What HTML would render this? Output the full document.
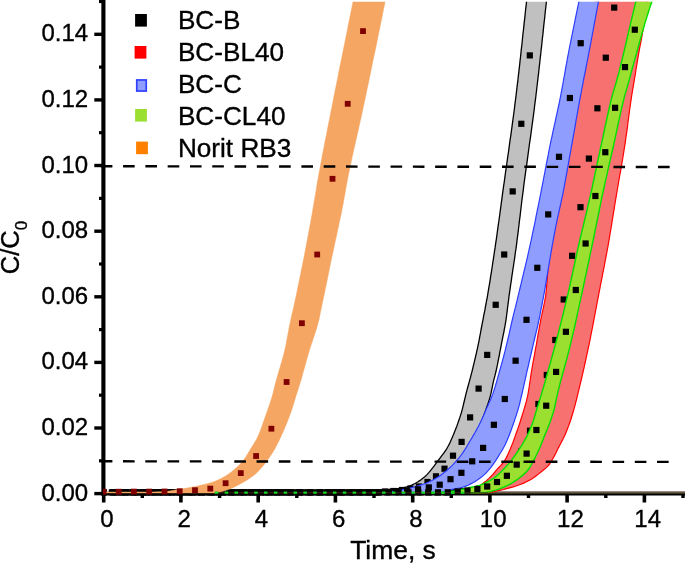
<!DOCTYPE html>
<html><head><meta charset="utf-8"><title>Breakthrough curves</title>
<style>
html,body{margin:0;padding:0;background:#fff;}
body{width:685px;height:563px;overflow:hidden;}
svg{display:block;}
text{font-family:"Liberation Sans",Arial,Helvetica,sans-serif;font-size:24px;fill:#000;stroke:#000;stroke-width:0.35px;}
.lg{font-size:25.6px;}
</style></head>
<body>
<svg width="685" height="563" viewBox="0 0 685 563">
<rect width="685" height="563" fill="#fff"/>
<defs><clipPath id="cp"><rect x="102.9" y="1.8" width="583" height="496"/></clipPath></defs>
<!-- axes lines -->
<line x1="103.4" x2="103.4" y1="0" y2="495.4" stroke="#000" stroke-width="4.1"/>
<line x1="101.4" x2="685" y1="493.65" y2="493.65" stroke="#000" stroke-width="3.6"/>
<line x1="94.3" x2="103.4" y1="493.6" y2="493.6" stroke="#000" stroke-width="3.4"/>
<line x1="99" x2="103.4" y1="460.8" y2="460.8" stroke="#000" stroke-width="3.2"/>
<line x1="94.3" x2="103.4" y1="428.0" y2="428.0" stroke="#000" stroke-width="3.4"/>
<line x1="99" x2="103.4" y1="395.2" y2="395.2" stroke="#000" stroke-width="3.2"/>
<line x1="94.3" x2="103.4" y1="362.4" y2="362.4" stroke="#000" stroke-width="3.4"/>
<line x1="99" x2="103.4" y1="329.6" y2="329.6" stroke="#000" stroke-width="3.2"/>
<line x1="94.3" x2="103.4" y1="296.8" y2="296.8" stroke="#000" stroke-width="3.4"/>
<line x1="99" x2="103.4" y1="264.0" y2="264.0" stroke="#000" stroke-width="3.2"/>
<line x1="94.3" x2="103.4" y1="231.2" y2="231.2" stroke="#000" stroke-width="3.4"/>
<line x1="99" x2="103.4" y1="198.4" y2="198.4" stroke="#000" stroke-width="3.2"/>
<line x1="94.3" x2="103.4" y1="165.5" y2="165.5" stroke="#000" stroke-width="3.4"/>
<line x1="99" x2="103.4" y1="132.7" y2="132.7" stroke="#000" stroke-width="3.2"/>
<line x1="94.3" x2="103.4" y1="99.9" y2="99.9" stroke="#000" stroke-width="3.4"/>
<line x1="99" x2="103.4" y1="67.1" y2="67.1" stroke="#000" stroke-width="3.2"/>
<line x1="94.3" x2="103.4" y1="34.3" y2="34.3" stroke="#000" stroke-width="3.4"/>
<line x1="99" x2="103.4" y1="1.5" y2="1.5" stroke="#000" stroke-width="3.2"/>
<line y1="493.4" y2="502.5" x1="103.7" x2="103.7" stroke="#000" stroke-width="3.6"/>
<line y1="493.4" y2="498" x1="142.3" x2="142.3" stroke="#000" stroke-width="3.4"/>
<line y1="493.4" y2="502.5" x1="180.9" x2="180.9" stroke="#000" stroke-width="3.6"/>
<line y1="493.4" y2="498" x1="219.6" x2="219.6" stroke="#000" stroke-width="3.4"/>
<line y1="493.4" y2="502.5" x1="258.2" x2="258.2" stroke="#000" stroke-width="3.6"/>
<line y1="493.4" y2="498" x1="296.8" x2="296.8" stroke="#000" stroke-width="3.4"/>
<line y1="493.4" y2="502.5" x1="335.4" x2="335.4" stroke="#000" stroke-width="3.6"/>
<line y1="493.4" y2="498" x1="374.0" x2="374.0" stroke="#000" stroke-width="3.4"/>
<line y1="493.4" y2="502.5" x1="412.7" x2="412.7" stroke="#000" stroke-width="3.6"/>
<line y1="493.4" y2="498" x1="451.3" x2="451.3" stroke="#000" stroke-width="3.4"/>
<line y1="493.4" y2="502.5" x1="489.9" x2="489.9" stroke="#000" stroke-width="3.6"/>
<line y1="493.4" y2="498" x1="528.5" x2="528.5" stroke="#000" stroke-width="3.4"/>
<line y1="493.4" y2="502.5" x1="567.1" x2="567.1" stroke="#000" stroke-width="3.6"/>
<line y1="493.4" y2="498" x1="605.8" x2="605.8" stroke="#000" stroke-width="3.4"/>
<line y1="493.4" y2="502.5" x1="644.4" x2="644.4" stroke="#000" stroke-width="3.6"/>
<line y1="493.4" y2="498" x1="683.0" x2="683.0" stroke="#000" stroke-width="3.4"/>
<line x1="480" x2="685" y1="492.3" y2="492.3" stroke="#6e544c" stroke-width="1.7"/>
<line x1="480" x2="685" y1="493.3" y2="493.3" stroke="#4a5a20" stroke-width="0.6"/>
<g clip-path="url(#cp)">
<path d="M350.0,492.3 L353.0,492.3 L356.0,492.2 L359.0,492.1 L362.0,491.9 L365.0,491.8 L368.0,491.6 L371.0,491.4 L374.0,491.2 L377.0,490.9 L379.9,490.6 L382.9,490.2 L385.9,489.9 L388.9,489.5 L391.9,489.2 L394.9,488.9 L397.8,488.7 L400.8,488.3 L403.8,487.7 L406.7,487.0 L409.5,486.0 L412.3,484.8 L415.0,483.5 L417.6,482.0 L420.1,480.4 L422.5,478.6 L424.8,476.7 L427.0,474.6 L429.0,472.4 L430.9,470.1 L432.8,467.7 L434.6,465.3 L436.4,462.9 L438.2,460.5 L440.0,458.1 L441.8,455.7 L443.6,453.3 L445.3,450.8 L447.0,448.3 L448.4,445.7 L449.8,443.1 L451.0,440.3 L452.2,437.6 L453.4,434.8 L454.5,432.0 L455.6,429.2 L456.7,426.4 L457.7,423.6 L458.7,420.8 L459.7,417.9 L460.6,415.1 L461.5,412.2 L462.3,409.3 L463.0,406.4 L463.7,403.5 L464.4,400.5 L465.1,397.6 L465.8,394.7 L466.5,391.8 L467.3,388.9 L468.1,386.0 L468.9,383.1 L469.7,380.2 L470.5,377.3 L471.2,374.4 L472.0,371.5 L472.7,368.6 L473.4,365.7 L474.1,362.8 L474.8,359.9 L475.5,356.9 L476.2,354.0 L476.8,351.1 L477.5,348.1 L478.1,345.2 L478.7,342.3 L479.3,339.3 L479.8,336.4 L480.4,333.4 L480.9,330.5 L481.5,327.5 L482.0,324.6 L482.6,321.6 L483.2,318.7 L483.7,315.7 L484.3,312.8 L484.9,309.9 L485.4,306.9 L486.0,304.0 L486.5,301.0 L487.1,298.1 L487.6,295.1 L488.1,292.2 L488.6,289.2 L489.1,286.2 L489.6,283.3 L490.1,280.3 L490.5,277.4 L491.0,274.4 L491.5,271.4 L491.9,268.5 L492.4,265.5 L492.8,262.5 L493.3,259.6 L493.7,256.6 L494.2,253.6 L494.6,250.7 L495.1,247.7 L495.5,244.7 L495.9,241.8 L496.4,238.8 L496.8,235.8 L497.2,232.8 L497.6,229.9 L498.0,226.9 L498.4,223.9 L498.9,221.0 L499.3,218.0 L499.7,215.0 L500.1,212.0 L500.5,209.1 L500.9,206.1 L501.3,203.1 L501.7,200.2 L502.1,197.2 L502.5,194.2 L502.9,191.2 L503.3,188.3 L503.7,185.3 L504.2,182.3 L504.6,179.4 L505.0,176.4 L505.4,173.4 L505.8,170.4 L506.3,167.5 L506.7,164.5 L507.1,161.5 L507.5,158.6 L507.9,155.6 L508.4,152.6 L508.8,149.6 L509.2,146.7 L509.6,143.7 L510.0,140.7 L510.4,137.8 L510.9,134.8 L511.3,131.8 L511.7,128.8 L512.1,125.9 L512.5,122.9 L512.9,119.9 L513.3,117.0 L513.7,114.0 L514.1,111.0 L514.5,108.0 L514.8,105.1 L515.2,102.1 L515.6,99.1 L516.0,96.1 L516.3,93.2 L516.7,90.2 L517.0,87.2 L517.4,84.2 L517.8,81.2 L518.1,78.3 L518.4,75.3 L518.8,72.3 L519.1,69.3 L519.5,66.3 L519.8,63.4 L520.1,60.4 L520.5,57.4 L520.8,54.4 L521.1,51.4 L521.4,48.4 L521.8,45.5 L522.1,42.5 L522.4,39.5 L522.7,36.5 L523.0,33.5 L523.4,30.5 L523.7,27.6 L524.0,24.6 L524.3,21.6 L524.7,18.6 L525.0,15.6 L525.3,12.7 L525.6,9.7 L526.0,6.7 L526.3,3.7 L526.6,0.7 L527.0,-2.3 L527.3,-5.0 L547.2,-5.0 L547.1,-4.4 L546.8,-1.4 L546.4,1.5 L546.1,4.5 L545.8,7.5 L545.4,10.5 L545.1,13.5 L544.8,16.5 L544.5,19.4 L544.1,22.4 L543.8,25.4 L543.5,28.4 L543.2,31.4 L542.9,34.4 L542.5,37.3 L542.2,40.3 L541.9,43.3 L541.6,46.3 L541.2,49.3 L540.9,52.3 L540.6,55.2 L540.2,58.2 L539.9,61.2 L539.6,64.2 L539.2,67.2 L538.9,70.1 L538.6,73.1 L538.2,76.1 L537.9,79.1 L537.5,82.1 L537.2,85.0 L536.8,88.0 L536.5,91.0 L536.1,94.0 L535.8,97.0 L535.4,99.9 L535.0,102.9 L534.6,105.9 L534.3,108.9 L533.9,111.8 L533.5,114.8 L533.1,117.8 L532.7,120.8 L532.3,123.7 L531.9,126.7 L531.5,129.7 L531.1,132.6 L530.7,135.6 L530.3,138.6 L529.8,141.6 L529.4,144.5 L529.0,147.5 L528.6,150.5 L528.2,153.4 L527.8,156.4 L527.4,159.4 L527.0,162.4 L526.6,165.3 L526.1,168.3 L525.7,171.3 L525.3,174.3 L524.9,177.2 L524.5,180.2 L524.1,183.2 L523.7,186.1 L523.4,189.1 L523.0,192.1 L522.6,195.1 L522.2,198.1 L521.8,201.0 L521.5,204.0 L521.1,207.0 L520.8,210.0 L520.4,212.9 L520.1,215.9 L519.7,218.9 L519.3,221.9 L519.0,224.9 L518.6,227.8 L518.3,230.8 L517.9,233.8 L517.5,236.8 L517.1,239.7 L516.8,242.7 L516.4,245.7 L516.0,248.7 L515.5,251.6 L515.1,254.6 L514.7,257.6 L514.3,260.5 L513.8,263.5 L513.4,266.5 L512.9,269.4 L512.5,272.4 L512.0,275.4 L511.6,278.3 L511.2,281.3 L510.7,284.3 L510.3,287.3 L509.9,290.2 L509.5,293.2 L509.0,296.2 L508.7,299.1 L508.3,302.1 L507.9,305.1 L507.5,308.1 L507.2,311.1 L506.8,314.0 L506.4,317.0 L506.0,320.0 L505.5,322.9 L505.0,325.9 L504.4,328.8 L503.9,331.8 L503.3,334.7 L502.7,337.7 L502.1,340.6 L501.5,343.6 L501.0,346.5 L500.4,349.4 L499.8,352.4 L499.3,355.3 L498.7,358.3 L498.1,361.2 L497.6,364.2 L496.9,367.1 L496.3,370.0 L495.6,373.0 L494.9,375.9 L494.1,378.8 L493.4,381.7 L492.8,384.6 L492.2,387.6 L491.6,390.5 L491.0,393.4 L490.2,396.3 L489.4,399.2 L488.5,402.1 L487.5,404.9 L486.5,407.8 L485.5,410.6 L484.5,413.4 L483.5,416.2 L482.4,419.0 L481.3,421.8 L480.2,424.6 L479.1,427.4 L477.9,430.2 L476.7,432.9 L475.5,435.7 L474.3,438.4 L473.0,441.1 L471.7,443.8 L470.3,446.5 L468.9,449.1 L467.4,451.7 L465.8,454.3 L464.2,456.8 L462.5,459.3 L460.7,461.7 L458.9,464.1 L456.9,466.4 L454.9,468.6 L452.8,470.7 L450.6,472.8 L448.3,474.7 L445.9,476.6 L443.5,478.4 L440.9,480.0 L438.4,481.4 L435.7,482.8 L432.9,484.0 L430.2,485.2 L427.3,486.2 L424.5,487.2 L421.6,488.0 L418.7,488.7 L415.8,489.4 L412.8,490.0 L409.9,490.5 L406.9,491.0 L403.9,491.5 L401.0,492.0 L398.0,492.3 L395.0,492.5 L392.0,492.6 L389.0,492.7 L386.0,492.8 L383.0,492.9 L380.1,492.9 L377.1,493.0 L374.1,493.1 L371.1,493.1 L368.1,493.2 L365.1,493.2 L362.1,493.2 L359.0,493.3 L356.0,493.3 L353.0,493.3 L350.0,493.3Z" fill="#c0c0c0" stroke="#000" stroke-width="1.3" stroke-linejoin="round"/>
<rect x="100.3" y="489.2" width="6.2" height="6.2" fill="#000"/>
<rect x="108.8" y="489.2" width="6.2" height="6.2" fill="#000"/>
<rect x="117.4" y="489.2" width="6.2" height="6.2" fill="#000"/>
<rect x="125.9" y="489.2" width="6.2" height="6.2" fill="#000"/>
<rect x="134.4" y="489.2" width="6.2" height="6.2" fill="#000"/>
<rect x="142.9" y="489.2" width="6.2" height="6.2" fill="#000"/>
<rect x="151.5" y="489.2" width="6.2" height="6.2" fill="#000"/>
<rect x="160.0" y="489.2" width="6.2" height="6.2" fill="#000"/>
<rect x="168.5" y="489.2" width="6.2" height="6.2" fill="#000"/>
<rect x="177.1" y="489.2" width="6.2" height="6.2" fill="#000"/>
<rect x="185.6" y="489.2" width="6.2" height="6.2" fill="#000"/>
<rect x="194.1" y="489.2" width="6.2" height="6.2" fill="#000"/>
<rect x="202.6" y="489.2" width="6.2" height="6.2" fill="#000"/>
<rect x="211.2" y="489.2" width="6.2" height="6.2" fill="#000"/>
<rect x="219.7" y="489.2" width="6.2" height="6.2" fill="#000"/>
<rect x="228.2" y="489.2" width="6.2" height="6.2" fill="#000"/>
<rect x="236.7" y="489.2" width="6.2" height="6.2" fill="#000"/>
<rect x="245.3" y="489.2" width="6.2" height="6.2" fill="#000"/>
<rect x="253.8" y="489.2" width="6.2" height="6.2" fill="#000"/>
<rect x="262.3" y="489.2" width="6.2" height="6.2" fill="#000"/>
<rect x="270.9" y="489.2" width="6.2" height="6.2" fill="#000"/>
<rect x="279.4" y="489.2" width="6.2" height="6.2" fill="#000"/>
<rect x="287.9" y="489.2" width="6.2" height="6.2" fill="#000"/>
<rect x="296.4" y="489.2" width="6.2" height="6.2" fill="#000"/>
<rect x="305.0" y="489.2" width="6.2" height="6.2" fill="#000"/>
<rect x="313.5" y="489.2" width="6.2" height="6.2" fill="#000"/>
<rect x="322.0" y="489.2" width="6.2" height="6.2" fill="#000"/>
<rect x="330.6" y="489.2" width="6.2" height="6.2" fill="#000"/>
<rect x="339.1" y="489.2" width="6.2" height="6.2" fill="#000"/>
<rect x="347.6" y="489.2" width="6.2" height="6.2" fill="#000"/>
<rect x="356.1" y="489.2" width="6.2" height="6.2" fill="#000"/>
<rect x="364.7" y="489.2" width="6.2" height="6.2" fill="#000"/>
<rect x="373.2" y="489.2" width="6.2" height="6.2" fill="#000"/>
<rect x="381.7" y="488.5" width="6.2" height="6.2" fill="#000"/>
<rect x="390.3" y="487.9" width="6.2" height="6.2" fill="#000"/>
<rect x="398.8" y="486.9" width="6.2" height="6.2" fill="#000"/>
<rect x="407.3" y="485.4" width="6.2" height="6.2" fill="#000"/>
<rect x="415.8" y="483.4" width="6.2" height="6.2" fill="#000"/>
<rect x="424.4" y="478.9" width="6.2" height="6.2" fill="#000"/>
<rect x="432.9" y="473.2" width="6.2" height="6.2" fill="#000"/>
<rect x="441.4" y="465.6" width="6.2" height="6.2" fill="#000"/>
<rect x="449.9" y="452.6" width="6.2" height="6.2" fill="#000"/>
<rect x="458.5" y="438.8" width="6.2" height="6.2" fill="#000"/>
<rect x="467.0" y="414.3" width="6.2" height="6.2" fill="#000"/>
<rect x="475.5" y="385.5" width="6.2" height="6.2" fill="#000"/>
<rect x="484.1" y="351.8" width="6.2" height="6.2" fill="#000"/>
<rect x="492.6" y="301.7" width="6.2" height="6.2" fill="#000"/>
<rect x="501.1" y="251.4" width="6.2" height="6.2" fill="#000"/>
<rect x="509.6" y="188.3" width="6.2" height="6.2" fill="#000"/>
<rect x="518.2" y="120.7" width="6.2" height="6.2" fill="#000"/>
<rect x="526.7" y="52.3" width="6.2" height="6.2" fill="#000"/>
<path d="M420.0,492.3 L423.0,492.3 L426.0,492.3 L429.0,492.3 L432.0,492.3 L435.0,492.3 L438.0,492.3 L441.0,492.3 L444.0,492.2 L447.0,492.1 L450.0,491.9 L453.0,491.7 L456.0,491.4 L459.0,491.1 L461.9,490.7 L464.9,490.2 L467.8,489.5 L470.7,488.8 L473.7,488.0 L476.6,487.1 L479.3,485.9 L481.8,484.4 L484.1,482.5 L486.5,480.6 L488.7,478.6 L490.9,476.5 L492.9,474.3 L494.9,472.0 L496.8,469.7 L498.8,467.5 L500.9,465.3 L502.9,463.0 L504.6,460.6 L506.1,458.1 L507.5,455.4 L508.7,452.6 L509.9,449.9 L511.1,447.1 L512.2,444.3 L513.3,441.5 L514.3,438.7 L515.3,435.9 L516.3,433.0 L517.3,430.2 L518.3,427.4 L519.3,424.5 L520.2,421.7 L521.1,418.8 L522.0,416.0 L522.9,413.1 L523.8,410.2 L524.6,407.3 L525.5,404.5 L526.3,401.6 L527.0,398.6 L527.7,395.7 L528.2,392.8 L528.7,389.8 L529.2,386.9 L529.6,383.9 L530.1,380.9 L530.5,378.0 L530.9,375.0 L531.4,372.0 L531.9,369.1 L532.4,366.1 L532.9,363.2 L533.5,360.2 L534.0,357.3 L534.6,354.3 L535.1,351.4 L535.6,348.4 L536.2,345.5 L536.7,342.5 L537.2,339.5 L537.7,336.6 L538.2,333.6 L538.8,330.7 L539.3,327.7 L539.8,324.8 L540.4,321.8 L540.9,318.9 L541.6,315.9 L542.2,313.0 L542.9,310.1 L543.5,307.1 L544.1,304.2 L544.7,301.2 L545.2,298.3 L545.7,295.3 L546.0,292.4 L546.3,289.4 L546.6,286.4 L546.9,283.4 L547.1,280.4 L547.4,277.4 L547.6,274.4 L547.8,271.4 L548.0,268.4 L548.2,265.4 L548.4,262.4 L548.6,259.4 L548.8,256.4 L549.1,253.5 L549.4,250.5 L549.7,247.5 L550.0,244.5 L550.4,241.6 L550.9,238.6 L551.3,235.7 L551.9,232.7 L552.4,229.8 L553.0,226.8 L553.7,223.9 L554.3,221.0 L555.0,218.0 L555.6,215.1 L556.3,212.2 L557.0,209.2 L557.6,206.3 L558.3,203.4 L558.9,200.4 L559.5,197.5 L560.1,194.5 L560.6,191.6 L561.2,188.6 L561.7,185.7 L562.3,182.7 L562.8,179.8 L563.3,176.8 L563.8,173.9 L564.3,170.9 L564.9,168.0 L565.4,165.0 L565.9,162.1 L566.4,159.1 L566.9,156.1 L567.5,153.2 L568.0,150.2 L568.5,147.3 L569.1,144.3 L569.6,141.4 L570.2,138.4 L570.7,135.5 L571.3,132.5 L571.8,129.6 L572.4,126.6 L572.9,123.7 L573.5,120.7 L574.1,117.8 L574.6,114.9 L575.2,111.9 L575.8,109.0 L576.3,106.0 L576.9,103.1 L577.4,100.1 L578.0,97.2 L578.5,94.2 L579.1,91.3 L579.6,88.3 L580.1,85.4 L580.7,82.4 L581.2,79.5 L581.7,76.5 L582.3,73.6 L582.8,70.6 L583.4,67.7 L583.9,64.7 L584.4,61.7 L585.0,58.8 L585.5,55.8 L586.1,52.9 L586.6,50.0 L587.2,47.0 L587.7,44.1 L588.3,41.1 L588.9,38.2 L589.4,35.2 L590.0,32.3 L590.6,29.3 L591.1,26.4 L591.7,23.4 L592.3,20.5 L592.8,17.5 L593.4,14.6 L594.0,11.6 L594.5,8.7 L595.1,5.8 L595.7,2.8 L596.2,-0.1 L596.8,-3.1 L597.1,-5.0 L649.1,-5.0 L649.0,-4.4 L648.4,-1.5 L647.9,1.5 L647.4,4.4 L646.9,7.4 L646.3,10.4 L645.8,13.3 L645.3,16.3 L644.8,19.2 L644.3,22.2 L643.8,25.1 L643.3,28.1 L642.8,31.1 L642.3,34.0 L641.8,37.0 L641.3,39.9 L640.7,42.9 L640.1,45.8 L639.5,48.8 L639.0,51.7 L638.5,54.7 L638.0,57.6 L637.5,60.6 L637.0,63.5 L636.5,66.5 L636.0,69.5 L635.6,72.4 L635.1,75.4 L634.6,78.3 L634.1,81.3 L633.6,84.3 L633.1,87.2 L632.6,90.2 L632.1,93.1 L631.6,96.1 L631.2,99.1 L630.8,102.0 L630.3,105.0 L629.9,108.0 L629.5,111.0 L629.1,113.9 L628.7,116.9 L628.3,119.9 L627.9,122.8 L627.6,125.8 L627.2,128.8 L626.8,131.8 L626.3,134.7 L625.9,137.7 L625.5,140.7 L625.1,143.6 L624.6,146.6 L624.1,149.6 L623.7,152.5 L623.2,155.5 L622.7,158.5 L622.2,161.4 L621.7,164.4 L621.2,167.3 L620.7,170.3 L620.2,173.2 L619.6,176.2 L619.1,179.2 L618.6,182.1 L618.1,185.1 L617.6,188.0 L617.1,191.0 L616.6,193.9 L616.1,196.9 L615.6,199.9 L615.1,202.8 L614.6,205.8 L614.2,208.7 L613.7,211.7 L613.2,214.7 L612.7,217.6 L612.2,220.6 L611.8,223.6 L611.3,226.5 L610.8,229.5 L610.3,232.4 L609.8,235.4 L609.3,238.3 L608.8,241.3 L608.3,244.3 L607.8,247.2 L607.2,250.2 L606.7,253.1 L606.1,256.1 L605.6,259.0 L605.0,262.0 L604.5,264.9 L603.9,267.9 L603.3,270.8 L602.7,273.7 L602.2,276.7 L601.6,279.6 L601.0,282.6 L600.4,285.5 L599.9,288.5 L599.3,291.4 L598.7,294.4 L598.2,297.3 L597.6,300.2 L597.0,303.2 L596.5,306.1 L595.9,309.1 L595.4,312.0 L594.8,315.0 L594.3,317.9 L593.7,320.9 L593.1,323.8 L592.6,326.8 L592.0,329.7 L591.4,332.7 L590.8,335.6 L590.3,338.6 L589.7,341.5 L589.1,344.4 L588.4,347.4 L587.8,350.3 L587.2,353.2 L586.6,356.2 L585.9,359.1 L585.3,362.0 L584.6,365.0 L584.0,367.9 L583.3,370.8 L582.7,373.7 L582.0,376.7 L581.3,379.6 L580.6,382.5 L579.9,385.4 L579.2,388.3 L578.5,391.3 L577.8,394.2 L577.1,397.1 L576.4,400.0 L575.6,402.9 L574.9,405.8 L574.1,408.7 L573.3,411.6 L572.4,414.5 L571.5,417.3 L570.6,420.2 L569.6,423.0 L568.6,425.9 L567.5,428.7 L566.4,431.5 L565.3,434.2 L564.0,436.9 L562.7,439.6 L561.3,442.3 L559.9,445.0 L558.5,447.6 L557.2,450.3 L555.9,453.0 L554.5,455.7 L553.1,458.3 L551.6,460.9 L550.0,463.5 L548.1,465.8 L546.0,467.9 L543.7,469.8 L541.3,471.7 L539.0,473.6 L536.6,475.5 L534.2,477.3 L531.7,478.9 L529.1,480.4 L526.4,481.8 L523.7,483.1 L520.9,484.2 L518.1,485.3 L515.3,486.2 L512.4,487.1 L509.5,487.9 L506.6,488.7 L503.7,489.5 L500.8,490.2 L497.9,490.7 L494.9,491.3 L491.9,491.9 L489.0,492.3 L486.0,492.6 L483.0,492.7 L480.0,492.8 L477.0,492.8 L474.1,492.9 L471.1,492.9 L468.1,493.0 L465.1,493.0 L462.1,493.1 L459.1,493.1 L456.1,493.1 L453.1,493.2 L450.1,493.2 L447.1,493.2 L444.1,493.2 L441.1,493.2 L438.1,493.3 L435.1,493.3 L432.1,493.3 L429.1,493.3 L426.0,493.3 L423.0,493.3 L420.0,493.3Z" fill="#f87171" stroke="#ff0000" stroke-width="1.2" stroke-linejoin="round"/>
<rect x="114.3" y="489.2" width="6.2" height="6.2" fill="#000"/>
<rect x="122.7" y="489.2" width="6.2" height="6.2" fill="#000"/>
<rect x="131.2" y="489.2" width="6.2" height="6.2" fill="#000"/>
<rect x="139.6" y="489.2" width="6.2" height="6.2" fill="#000"/>
<rect x="148.0" y="489.2" width="6.2" height="6.2" fill="#000"/>
<rect x="156.4" y="489.2" width="6.2" height="6.2" fill="#000"/>
<rect x="164.8" y="489.2" width="6.2" height="6.2" fill="#000"/>
<rect x="173.3" y="489.2" width="6.2" height="6.2" fill="#000"/>
<rect x="181.7" y="489.2" width="6.2" height="6.2" fill="#000"/>
<rect x="190.1" y="489.2" width="6.2" height="6.2" fill="#000"/>
<rect x="198.5" y="489.2" width="6.2" height="6.2" fill="#000"/>
<rect x="206.9" y="489.2" width="6.2" height="6.2" fill="#000"/>
<rect x="215.4" y="489.2" width="6.2" height="6.2" fill="#000"/>
<rect x="223.8" y="489.2" width="6.2" height="6.2" fill="#000"/>
<rect x="232.2" y="489.2" width="6.2" height="6.2" fill="#000"/>
<rect x="240.6" y="489.2" width="6.2" height="6.2" fill="#000"/>
<rect x="249.0" y="489.2" width="6.2" height="6.2" fill="#000"/>
<rect x="257.5" y="489.2" width="6.2" height="6.2" fill="#000"/>
<rect x="265.9" y="489.2" width="6.2" height="6.2" fill="#000"/>
<rect x="274.3" y="489.2" width="6.2" height="6.2" fill="#000"/>
<rect x="282.7" y="489.2" width="6.2" height="6.2" fill="#000"/>
<rect x="291.1" y="489.2" width="6.2" height="6.2" fill="#000"/>
<rect x="299.6" y="489.2" width="6.2" height="6.2" fill="#000"/>
<rect x="308.0" y="489.2" width="6.2" height="6.2" fill="#000"/>
<rect x="316.4" y="489.2" width="6.2" height="6.2" fill="#000"/>
<rect x="324.8" y="489.2" width="6.2" height="6.2" fill="#000"/>
<rect x="333.2" y="489.2" width="6.2" height="6.2" fill="#000"/>
<rect x="341.7" y="489.2" width="6.2" height="6.2" fill="#000"/>
<rect x="350.1" y="489.2" width="6.2" height="6.2" fill="#000"/>
<rect x="358.5" y="489.2" width="6.2" height="6.2" fill="#000"/>
<rect x="366.9" y="489.2" width="6.2" height="6.2" fill="#000"/>
<rect x="375.3" y="489.2" width="6.2" height="6.2" fill="#000"/>
<rect x="383.8" y="489.2" width="6.2" height="6.2" fill="#000"/>
<rect x="392.2" y="489.2" width="6.2" height="6.2" fill="#000"/>
<rect x="400.6" y="489.2" width="6.2" height="6.2" fill="#000"/>
<rect x="409.0" y="489.2" width="6.2" height="6.2" fill="#000"/>
<rect x="417.4" y="489.2" width="6.2" height="6.2" fill="#000"/>
<rect x="425.9" y="489.2" width="6.2" height="6.2" fill="#000"/>
<rect x="434.3" y="489.2" width="6.2" height="6.2" fill="#000"/>
<rect x="442.7" y="489.2" width="6.2" height="6.2" fill="#000"/>
<rect x="451.1" y="488.5" width="6.2" height="6.2" fill="#000"/>
<rect x="459.5" y="487.9" width="6.2" height="6.2" fill="#000"/>
<rect x="468.0" y="486.9" width="6.2" height="6.2" fill="#000"/>
<rect x="476.4" y="485.4" width="6.2" height="6.2" fill="#000"/>
<rect x="484.8" y="482.9" width="6.2" height="6.2" fill="#000"/>
<rect x="493.2" y="478.9" width="6.2" height="6.2" fill="#000"/>
<rect x="501.6" y="472.9" width="6.2" height="6.2" fill="#000"/>
<rect x="510.1" y="462.9" width="6.2" height="6.2" fill="#000"/>
<rect x="518.5" y="447.9" width="6.2" height="6.2" fill="#000"/>
<rect x="526.9" y="427.6" width="6.2" height="6.2" fill="#000"/>
<rect x="535.3" y="400.9" width="6.2" height="6.2" fill="#000"/>
<rect x="543.7" y="371.9" width="6.2" height="6.2" fill="#000"/>
<rect x="552.2" y="336.9" width="6.2" height="6.2" fill="#000"/>
<rect x="560.6" y="296.4" width="6.2" height="6.2" fill="#000"/>
<rect x="569.0" y="252.7" width="6.2" height="6.2" fill="#000"/>
<rect x="577.4" y="204.1" width="6.2" height="6.2" fill="#000"/>
<rect x="585.8" y="155.5" width="6.2" height="6.2" fill="#000"/>
<rect x="594.3" y="105.2" width="6.2" height="6.2" fill="#000"/>
<rect x="602.7" y="54.6" width="6.2" height="6.2" fill="#000"/>
<rect x="611.1" y="4.5" width="6.2" height="6.2" fill="#000"/>
<path d="M370.0,492.3 L373.0,492.3 L376.0,492.2 L379.0,492.1 L382.0,492.0 L385.0,491.8 L388.0,491.6 L391.0,491.4 L394.0,491.1 L396.9,490.7 L399.9,490.2 L402.8,489.6 L405.8,489.0 L408.7,488.3 L411.6,487.7 L414.5,486.9 L417.4,486.0 L420.3,485.1 L423.1,484.2 L426.0,483.2 L428.7,482.0 L431.4,480.7 L434.1,479.3 L436.7,477.8 L439.2,476.2 L441.6,474.4 L444.0,472.6 L446.4,470.7 L448.6,468.8 L450.9,466.7 L453.0,464.6 L455.0,462.4 L457.0,460.2 L459.0,457.9 L460.8,455.5 L462.6,453.1 L464.2,450.6 L465.9,448.1 L467.4,445.5 L468.9,442.9 L470.5,440.3 L472.0,437.7 L473.5,435.1 L475.0,432.5 L476.5,429.9 L477.9,427.3 L479.3,424.6 L480.6,421.9 L481.9,419.2 L483.1,416.5 L484.3,413.7 L485.5,411.0 L486.6,408.2 L487.9,405.5 L489.1,402.7 L490.4,400.0 L491.5,397.2 L492.6,394.4 L493.6,391.6 L494.5,388.8 L495.4,385.9 L496.2,383.0 L497.1,380.1 L497.9,377.2 L498.7,374.3 L499.5,371.4 L500.3,368.6 L501.1,365.7 L501.9,362.8 L502.7,359.9 L503.5,357.0 L504.2,354.1 L505.0,351.2 L505.7,348.3 L506.4,345.4 L507.1,342.4 L507.8,339.5 L508.5,336.6 L509.2,333.7 L509.8,330.7 L510.5,327.8 L511.1,324.9 L511.8,322.0 L512.5,319.0 L513.2,316.1 L513.9,313.2 L514.6,310.3 L515.4,307.4 L516.1,304.5 L516.8,301.6 L517.5,298.7 L518.2,295.7 L518.9,292.8 L519.6,289.9 L520.3,287.0 L521.0,284.1 L521.7,281.2 L522.4,278.2 L523.1,275.3 L523.8,272.4 L524.5,269.5 L525.2,266.6 L525.9,263.6 L526.6,260.7 L527.3,257.8 L527.9,254.9 L528.6,251.9 L529.2,249.0 L529.9,246.1 L530.5,243.2 L531.2,240.2 L531.8,237.3 L532.4,234.4 L533.0,231.4 L533.6,228.5 L534.3,225.6 L534.9,222.6 L535.5,219.7 L536.0,216.7 L536.6,213.8 L537.2,210.8 L537.8,207.9 L538.4,205.0 L539.0,202.0 L539.6,199.1 L540.2,196.1 L540.8,193.2 L541.3,190.3 L541.9,187.3 L542.5,184.4 L543.1,181.4 L543.6,178.5 L544.2,175.5 L544.8,172.6 L545.3,169.6 L545.9,166.7 L546.4,163.7 L547.0,160.8 L547.6,157.8 L548.2,154.9 L548.7,152.0 L549.3,149.0 L549.9,146.1 L550.5,143.1 L551.1,140.2 L551.8,137.3 L552.4,134.3 L553.0,131.4 L553.7,128.5 L554.3,125.5 L555.0,122.6 L555.6,119.7 L556.2,116.7 L556.9,113.8 L557.5,110.9 L558.1,108.0 L558.8,105.0 L559.4,102.1 L560.0,99.1 L560.6,96.2 L561.1,93.3 L561.7,90.3 L562.2,87.4 L562.8,84.4 L563.3,81.5 L563.8,78.5 L564.4,75.5 L564.9,72.6 L565.4,69.6 L565.9,66.7 L566.5,63.7 L567.0,60.8 L567.5,57.8 L568.1,54.9 L568.7,51.9 L569.2,49.0 L569.8,46.0 L570.4,43.1 L571.0,40.2 L571.6,37.2 L572.2,34.3 L572.8,31.3 L573.4,28.4 L574.0,25.5 L574.6,22.5 L575.2,19.6 L575.8,16.6 L576.4,13.7 L577.0,10.8 L577.6,7.8 L578.2,4.9 L578.8,2.0 L579.4,-1.0 L580.0,-3.9 L580.2,-5.0 L599.7,-5.0 L599.7,-4.8 L599.1,-1.9 L598.6,1.0 L598.0,4.0 L597.5,6.9 L596.9,9.9 L596.4,12.8 L595.8,15.8 L595.3,18.7 L594.7,21.7 L594.2,24.6 L593.6,27.6 L593.1,30.5 L592.5,33.5 L592.0,36.4 L591.4,39.4 L590.9,42.3 L590.3,45.3 L589.8,48.2 L589.2,51.2 L588.6,54.1 L588.1,57.1 L587.5,60.0 L586.9,63.0 L586.3,65.9 L585.8,68.8 L585.2,71.8 L584.6,74.7 L584.0,77.7 L583.4,80.6 L582.9,83.6 L582.3,86.5 L581.7,89.5 L581.2,92.4 L580.6,95.3 L580.1,98.3 L579.5,101.2 L579.0,104.2 L578.4,107.2 L577.9,110.1 L577.4,113.1 L576.9,116.0 L576.3,119.0 L575.8,121.9 L575.3,124.9 L574.8,127.8 L574.3,130.8 L573.8,133.7 L573.2,136.7 L572.7,139.6 L572.2,142.6 L571.6,145.6 L571.1,148.5 L570.6,151.5 L570.1,154.4 L569.5,157.4 L569.0,160.3 L568.5,163.3 L568.0,166.2 L567.4,169.2 L566.9,172.1 L566.4,175.1 L565.8,178.0 L565.3,181.0 L564.7,183.9 L564.2,186.9 L563.6,189.8 L563.0,192.8 L562.5,195.7 L561.8,198.7 L561.2,201.6 L560.6,204.5 L559.9,207.4 L559.2,210.4 L558.6,213.3 L557.9,216.2 L557.3,219.2 L556.7,222.1 L556.1,225.0 L555.5,228.0 L555.0,230.9 L554.4,233.9 L553.8,236.8 L553.3,239.8 L552.8,242.7 L552.2,245.7 L551.7,248.6 L551.2,251.6 L550.7,254.5 L550.2,257.5 L549.7,260.5 L549.2,263.4 L548.7,266.4 L548.2,269.3 L547.7,272.3 L547.2,275.3 L546.7,278.2 L546.2,281.2 L545.7,284.1 L545.2,287.1 L544.7,290.0 L544.2,293.0 L543.6,295.9 L543.1,298.9 L542.5,301.8 L542.0,304.8 L541.4,307.7 L540.8,310.7 L540.2,313.6 L539.7,316.6 L539.0,319.5 L538.4,322.4 L537.8,325.4 L537.1,328.3 L536.4,331.2 L535.7,334.1 L535.0,337.0 L534.3,340.0 L533.6,342.9 L532.9,345.8 L532.3,348.7 L531.6,351.7 L530.9,354.6 L530.2,357.5 L529.5,360.4 L528.9,363.3 L528.2,366.3 L527.5,369.2 L526.8,372.1 L526.2,375.0 L525.5,378.0 L524.9,380.9 L524.2,383.8 L523.6,386.8 L522.9,389.7 L522.3,392.6 L521.6,395.5 L520.9,398.4 L520.2,401.4 L519.5,404.3 L518.7,407.2 L517.9,410.1 L517.0,412.9 L516.1,415.8 L515.1,418.6 L514.2,421.5 L513.2,424.3 L512.2,427.1 L511.2,430.0 L510.1,432.8 L509.1,435.6 L507.9,438.4 L506.8,441.1 L505.5,443.9 L504.2,446.5 L502.7,449.2 L501.2,451.8 L499.6,454.3 L498.1,456.9 L496.5,459.4 L494.8,461.9 L493.1,464.4 L491.3,466.8 L489.4,469.1 L487.5,471.4 L485.4,473.6 L483.2,475.6 L480.9,477.5 L478.4,479.3 L475.9,480.9 L473.4,482.5 L470.7,483.9 L468.0,485.2 L465.2,486.4 L462.4,487.3 L459.5,488.0 L456.5,488.5 L453.6,489.0 L450.6,489.8 L447.7,490.8 L444.9,491.7 L441.9,492.3 L439.0,492.5 L436.1,492.6 L433.1,492.7 L430.2,492.7 L427.2,492.8 L424.3,492.9 L421.3,492.9 L418.3,493.0 L415.3,493.0 L412.4,493.1 L409.4,493.1 L406.4,493.1 L403.4,493.2 L400.4,493.2 L397.4,493.2 L394.4,493.2 L391.4,493.2 L388.3,493.3 L385.3,493.3 L382.2,493.3 L379.2,493.3 L376.1,493.3 L373.1,493.3 L370.0,493.3Z" fill="#8f9dff" stroke="#2a3cff" stroke-width="1.2" stroke-linejoin="round"/>
<rect x="100.3" y="489.2" width="6.2" height="6.2" fill="#000"/>
<rect x="111.1" y="489.2" width="6.2" height="6.2" fill="#000"/>
<rect x="122.0" y="489.2" width="6.2" height="6.2" fill="#000"/>
<rect x="132.8" y="489.2" width="6.2" height="6.2" fill="#000"/>
<rect x="143.7" y="489.2" width="6.2" height="6.2" fill="#000"/>
<rect x="154.5" y="489.2" width="6.2" height="6.2" fill="#000"/>
<rect x="165.4" y="489.2" width="6.2" height="6.2" fill="#000"/>
<rect x="176.2" y="489.2" width="6.2" height="6.2" fill="#000"/>
<rect x="187.1" y="489.2" width="6.2" height="6.2" fill="#000"/>
<rect x="197.9" y="489.2" width="6.2" height="6.2" fill="#000"/>
<rect x="208.8" y="489.2" width="6.2" height="6.2" fill="#000"/>
<rect x="219.6" y="489.2" width="6.2" height="6.2" fill="#000"/>
<rect x="230.5" y="489.2" width="6.2" height="6.2" fill="#000"/>
<rect x="241.3" y="489.2" width="6.2" height="6.2" fill="#000"/>
<rect x="252.2" y="489.2" width="6.2" height="6.2" fill="#000"/>
<rect x="263.0" y="489.2" width="6.2" height="6.2" fill="#000"/>
<rect x="273.9" y="489.2" width="6.2" height="6.2" fill="#000"/>
<rect x="284.7" y="489.2" width="6.2" height="6.2" fill="#000"/>
<rect x="295.6" y="489.2" width="6.2" height="6.2" fill="#000"/>
<rect x="306.4" y="489.2" width="6.2" height="6.2" fill="#000"/>
<rect x="317.3" y="489.2" width="6.2" height="6.2" fill="#000"/>
<rect x="328.1" y="489.2" width="6.2" height="6.2" fill="#000"/>
<rect x="339.0" y="489.2" width="6.2" height="6.2" fill="#000"/>
<rect x="349.8" y="489.2" width="6.2" height="6.2" fill="#000"/>
<rect x="360.7" y="489.2" width="6.2" height="6.2" fill="#000"/>
<rect x="371.5" y="489.2" width="6.2" height="6.2" fill="#000"/>
<rect x="382.3" y="488.7" width="6.2" height="6.2" fill="#000"/>
<rect x="393.2" y="488.2" width="6.2" height="6.2" fill="#000"/>
<rect x="404.0" y="487.4" width="6.2" height="6.2" fill="#000"/>
<rect x="414.9" y="486.2" width="6.2" height="6.2" fill="#000"/>
<rect x="425.7" y="484.3" width="6.2" height="6.2" fill="#000"/>
<rect x="436.6" y="481.6" width="6.2" height="6.2" fill="#000"/>
<rect x="447.4" y="476.1" width="6.2" height="6.2" fill="#000"/>
<rect x="458.3" y="469.7" width="6.2" height="6.2" fill="#000"/>
<rect x="469.1" y="458.2" width="6.2" height="6.2" fill="#000"/>
<rect x="480.0" y="444.8" width="6.2" height="6.2" fill="#000"/>
<rect x="490.8" y="421.7" width="6.2" height="6.2" fill="#000"/>
<rect x="501.7" y="395.9" width="6.2" height="6.2" fill="#000"/>
<rect x="512.5" y="357.6" width="6.2" height="6.2" fill="#000"/>
<rect x="523.4" y="316.7" width="6.2" height="6.2" fill="#000"/>
<rect x="534.2" y="264.7" width="6.2" height="6.2" fill="#000"/>
<rect x="545.1" y="211.3" width="6.2" height="6.2" fill="#000"/>
<rect x="555.9" y="153.7" width="6.2" height="6.2" fill="#000"/>
<rect x="566.8" y="94.9" width="6.2" height="6.2" fill="#000"/>
<rect x="577.6" y="40.1" width="6.2" height="6.2" fill="#000"/>
<path d="M430.0,492.4 L433.0,492.4 L436.0,492.4 L439.0,492.3 L442.0,492.1 L445.0,492.0 L448.0,491.8 L451.0,491.4 L453.9,491.0 L456.9,490.5 L459.8,489.9 L462.8,489.3 L465.7,488.7 L468.6,487.9 L471.6,487.2 L474.5,486.6 L477.4,485.9 L480.3,485.1 L483.1,484.0 L485.8,482.7 L488.5,481.3 L491.0,479.8 L493.6,478.2 L496.0,476.4 L498.3,474.5 L500.5,472.5 L502.6,470.3 L504.7,468.1 L506.7,465.9 L508.7,463.6 L510.6,461.3 L512.4,458.9 L514.2,456.5 L515.9,454.1 L517.6,451.6 L519.3,449.1 L520.9,446.6 L522.5,444.0 L524.0,441.4 L525.5,438.8 L526.9,436.2 L528.2,433.5 L529.5,430.8 L530.6,428.0 L531.7,425.2 L532.8,422.4 L533.7,419.5 L534.6,416.7 L535.4,413.8 L536.3,410.9 L537.2,408.0 L538.1,405.2 L539.0,402.3 L539.8,399.4 L540.7,396.6 L541.6,393.7 L542.4,390.8 L543.3,387.9 L544.1,385.1 L545.0,382.2 L545.8,379.3 L546.6,376.4 L547.4,373.5 L548.2,370.6 L549.0,367.8 L549.8,364.9 L550.6,362.0 L551.4,359.1 L552.2,356.2 L553.0,353.3 L553.8,350.4 L554.6,347.5 L555.3,344.6 L556.1,341.7 L556.9,338.8 L557.6,335.9 L558.4,333.0 L559.1,330.1 L559.8,327.2 L560.6,324.3 L561.3,321.3 L562.0,318.4 L562.8,315.5 L563.5,312.6 L564.2,309.7 L564.9,306.8 L565.6,303.9 L566.3,300.9 L567.0,298.0 L567.7,295.1 L568.4,292.2 L569.0,289.3 L569.7,286.3 L570.3,283.4 L571.0,280.5 L571.6,277.5 L572.3,274.6 L572.9,271.7 L573.5,268.8 L574.2,265.8 L574.8,262.9 L575.4,260.0 L576.1,257.0 L576.7,254.1 L577.3,251.2 L578.0,248.2 L578.7,245.3 L579.3,242.4 L580.0,239.5 L580.7,236.5 L581.4,233.6 L582.1,230.7 L582.8,227.8 L583.5,224.9 L584.2,221.9 L584.9,219.0 L585.6,216.1 L586.3,213.2 L587.0,210.3 L587.6,207.4 L588.3,204.4 L589.0,201.5 L589.7,198.6 L590.4,195.7 L591.0,192.7 L591.7,189.8 L592.3,186.9 L592.9,183.9 L593.6,181.0 L594.2,178.1 L594.8,175.1 L595.4,172.2 L596.1,169.3 L596.7,166.3 L597.3,163.4 L597.9,160.5 L598.5,157.5 L599.2,154.6 L599.8,151.7 L600.4,148.7 L601.1,145.8 L601.7,142.9 L602.3,139.9 L603.0,137.0 L603.6,134.1 L604.2,131.1 L604.8,128.2 L605.4,125.3 L606.1,122.3 L606.7,119.4 L607.3,116.4 L608.0,113.5 L608.6,110.6 L609.3,107.7 L610.0,104.8 L610.7,101.8 L611.4,98.9 L612.2,96.0 L613.0,93.1 L613.8,90.3 L614.7,87.4 L615.6,84.5 L616.4,81.6 L617.2,78.8 L618.0,75.9 L618.8,73.0 L619.5,70.0 L620.2,67.1 L621.0,64.2 L621.7,61.3 L622.4,58.4 L623.1,55.5 L623.8,52.6 L624.5,49.6 L625.2,46.7 L625.9,43.8 L626.5,40.9 L627.2,38.0 L627.9,35.0 L628.6,32.1 L629.3,29.2 L630.0,26.3 L630.6,23.4 L631.3,20.4 L632.0,17.5 L632.7,14.6 L633.4,11.7 L634.1,8.8 L634.8,5.8 L635.5,2.9 L636.2,0.0 L636.9,-2.9 L637.4,-5.0 L653.9,-5.0 L653.9,-5.0 L653.0,-2.1 L652.1,0.7 L651.2,3.6 L650.2,6.5 L649.3,9.3 L648.4,12.2 L647.5,15.0 L646.6,17.9 L645.7,20.7 L644.8,23.6 L644.0,26.5 L643.2,29.4 L642.3,32.3 L641.5,35.1 L640.7,38.0 L639.9,40.9 L639.1,43.8 L638.3,46.7 L637.5,49.6 L636.7,52.5 L635.9,55.4 L635.1,58.3 L634.3,61.2 L633.5,64.1 L632.7,67.0 L631.9,69.9 L631.1,72.7 L630.3,75.6 L629.6,78.5 L628.8,81.4 L628.0,84.3 L627.2,87.2 L626.3,90.1 L625.5,93.0 L624.6,95.9 L623.9,98.8 L623.2,101.7 L622.5,104.6 L621.8,107.5 L621.1,110.4 L620.4,113.3 L619.8,116.3 L619.2,119.2 L618.5,122.1 L617.9,125.1 L617.3,128.0 L616.7,131.0 L616.0,133.9 L615.4,136.8 L614.8,139.8 L614.1,142.7 L613.5,145.6 L612.8,148.5 L612.2,151.5 L611.5,154.4 L610.8,157.3 L610.2,160.2 L609.5,163.2 L608.8,166.1 L608.2,169.0 L607.5,171.9 L606.9,174.9 L606.2,177.8 L605.5,180.7 L604.9,183.7 L604.2,186.6 L603.6,189.5 L603.0,192.4 L602.3,195.4 L601.7,198.3 L601.1,201.2 L600.5,204.2 L599.9,207.1 L599.3,210.1 L598.7,213.0 L598.1,215.9 L597.5,218.9 L596.9,221.8 L596.3,224.8 L595.7,227.7 L595.1,230.6 L594.5,233.6 L593.9,236.5 L593.3,239.5 L592.7,242.4 L592.1,245.3 L591.5,248.3 L590.8,251.2 L590.2,254.1 L589.6,257.1 L589.0,260.0 L588.4,263.0 L587.7,265.9 L587.1,268.8 L586.5,271.8 L585.9,274.7 L585.2,277.6 L584.6,280.6 L584.0,283.5 L583.4,286.4 L582.7,289.4 L582.1,292.3 L581.5,295.2 L580.8,298.2 L580.2,301.1 L579.5,304.0 L578.9,306.9 L578.3,309.9 L577.6,312.8 L577.0,315.7 L576.4,318.7 L575.7,321.6 L575.1,324.5 L574.4,327.5 L573.7,330.4 L573.1,333.3 L572.4,336.2 L571.7,339.2 L571.0,342.1 L570.3,345.0 L569.6,347.9 L568.9,350.8 L568.1,353.7 L567.3,356.6 L566.6,359.5 L565.8,362.4 L565.0,365.3 L564.2,368.2 L563.4,371.1 L562.6,374.0 L561.8,376.9 L561.0,379.8 L560.2,382.7 L559.5,385.6 L558.8,388.5 L558.0,391.4 L557.4,394.3 L556.7,397.2 L556.1,400.2 L555.5,403.1 L554.9,406.1 L554.2,409.0 L553.4,411.9 L552.5,414.7 L551.6,417.6 L550.6,420.4 L549.6,423.3 L548.5,426.0 L547.4,428.8 L546.2,431.6 L545.1,434.4 L543.9,437.2 L542.9,440.0 L541.8,442.7 L540.7,445.5 L539.5,448.3 L538.3,451.0 L537.0,453.8 L535.7,456.5 L534.4,459.1 L533.0,461.8 L531.5,464.5 L530.0,467.1 L528.3,469.5 L526.4,471.8 L524.3,473.9 L522.0,475.9 L519.6,477.8 L517.2,479.6 L514.7,481.2 L512.2,482.8 L509.6,484.3 L506.9,485.7 L504.2,487.0 L501.4,488.2 L498.6,489.2 L495.7,490.1 L492.8,490.8 L489.9,491.6 L487.0,492.2 L484.0,492.6 L481.0,492.6 L478.0,492.7 L475.1,492.7 L472.1,492.8 L469.1,492.8 L466.1,492.9 L463.1,492.9 L460.2,492.9 L457.2,493.0 L454.2,493.0 L451.2,493.0 L448.1,493.0 L445.1,493.0 L442.1,493.0 L439.1,493.0 L436.1,493.0 L433.0,493.0 L430.0,493.1Z" fill="#9be031" stroke="#00e000" stroke-width="1.4" stroke-linejoin="round"/>
<rect x="100.3" y="489.2" width="6.2" height="6.2" fill="#000"/>
<rect x="110.1" y="489.2" width="6.2" height="6.2" fill="#000"/>
<rect x="120.0" y="489.2" width="6.2" height="6.2" fill="#000"/>
<rect x="129.8" y="489.2" width="6.2" height="6.2" fill="#000"/>
<rect x="139.7" y="489.2" width="6.2" height="6.2" fill="#000"/>
<rect x="149.5" y="489.2" width="6.2" height="6.2" fill="#000"/>
<rect x="159.3" y="489.2" width="6.2" height="6.2" fill="#000"/>
<rect x="169.2" y="489.2" width="6.2" height="6.2" fill="#000"/>
<rect x="179.0" y="489.2" width="6.2" height="6.2" fill="#000"/>
<rect x="188.9" y="489.2" width="6.2" height="6.2" fill="#000"/>
<rect x="198.7" y="489.2" width="6.2" height="6.2" fill="#000"/>
<rect x="208.6" y="489.2" width="6.2" height="6.2" fill="#000"/>
<rect x="218.4" y="489.2" width="6.2" height="6.2" fill="#000"/>
<rect x="228.2" y="489.2" width="6.2" height="6.2" fill="#000"/>
<rect x="238.1" y="489.2" width="6.2" height="6.2" fill="#000"/>
<rect x="247.9" y="489.2" width="6.2" height="6.2" fill="#000"/>
<rect x="257.8" y="489.2" width="6.2" height="6.2" fill="#000"/>
<rect x="267.6" y="489.2" width="6.2" height="6.2" fill="#000"/>
<rect x="277.4" y="489.2" width="6.2" height="6.2" fill="#000"/>
<rect x="287.3" y="489.2" width="6.2" height="6.2" fill="#000"/>
<rect x="297.1" y="489.2" width="6.2" height="6.2" fill="#000"/>
<rect x="307.0" y="489.2" width="6.2" height="6.2" fill="#000"/>
<rect x="316.8" y="489.2" width="6.2" height="6.2" fill="#000"/>
<rect x="326.6" y="489.2" width="6.2" height="6.2" fill="#000"/>
<rect x="336.5" y="489.2" width="6.2" height="6.2" fill="#000"/>
<rect x="346.3" y="489.2" width="6.2" height="6.2" fill="#000"/>
<rect x="356.2" y="489.2" width="6.2" height="6.2" fill="#000"/>
<rect x="366.0" y="489.2" width="6.2" height="6.2" fill="#000"/>
<rect x="375.8" y="489.2" width="6.2" height="6.2" fill="#000"/>
<rect x="385.7" y="489.2" width="6.2" height="6.2" fill="#000"/>
<rect x="395.5" y="489.2" width="6.2" height="6.2" fill="#000"/>
<rect x="405.4" y="489.2" width="6.2" height="6.2" fill="#000"/>
<rect x="415.2" y="489.2" width="6.2" height="6.2" fill="#000"/>
<rect x="425.1" y="489.2" width="6.2" height="6.2" fill="#000"/>
<rect x="434.9" y="489.2" width="6.2" height="6.2" fill="#000"/>
<rect x="444.7" y="489.2" width="6.2" height="6.2" fill="#000"/>
<rect x="454.6" y="488.3" width="6.2" height="6.2" fill="#000"/>
<rect x="464.4" y="487.4" width="6.2" height="6.2" fill="#000"/>
<rect x="474.3" y="485.9" width="6.2" height="6.2" fill="#000"/>
<rect x="484.1" y="483.4" width="6.2" height="6.2" fill="#000"/>
<rect x="493.9" y="478.9" width="6.2" height="6.2" fill="#000"/>
<rect x="503.8" y="472.7" width="6.2" height="6.2" fill="#000"/>
<rect x="513.6" y="461.5" width="6.2" height="6.2" fill="#000"/>
<rect x="523.5" y="450.5" width="6.2" height="6.2" fill="#000"/>
<rect x="533.3" y="426.9" width="6.2" height="6.2" fill="#000"/>
<rect x="543.1" y="402.6" width="6.2" height="6.2" fill="#000"/>
<rect x="553.0" y="368.8" width="6.2" height="6.2" fill="#000"/>
<rect x="562.8" y="328.7" width="6.2" height="6.2" fill="#000"/>
<rect x="572.7" y="286.9" width="6.2" height="6.2" fill="#000"/>
<rect x="582.5" y="240.4" width="6.2" height="6.2" fill="#000"/>
<rect x="592.3" y="192.9" width="6.2" height="6.2" fill="#000"/>
<rect x="602.2" y="149.1" width="6.2" height="6.2" fill="#000"/>
<rect x="612.0" y="104.7" width="6.2" height="6.2" fill="#000"/>
<rect x="621.9" y="64.0" width="6.2" height="6.2" fill="#000"/>
<rect x="631.7" y="26.6" width="6.2" height="6.2" fill="#000"/>
<path d="M103.4,492.1 L106.4,492.1 L109.4,492.1 L112.4,492.1 L115.4,492.1 L118.4,492.1 L121.4,492.1 L124.4,492.1 L127.4,492.1 L130.4,492.1 L133.4,492.1 L136.4,492.1 L139.4,492.0 L142.4,492.0 L145.4,492.0 L148.4,492.0 L151.4,492.0 L154.4,491.9 L157.4,491.8 L160.4,491.7 L163.4,491.5 L166.4,491.3 L169.4,491.0 L172.3,490.5 L175.3,490.0 L178.2,489.5 L181.2,489.0 L184.2,488.6 L187.1,488.1 L190.1,487.6 L193.0,487.0 L196.0,486.4 L198.9,485.8 L201.8,485.1 L204.8,484.4 L207.7,483.6 L210.6,482.8 L213.4,481.9 L216.2,480.8 L219.0,479.6 L221.6,478.2 L224.3,476.8 L226.8,475.2 L229.3,473.5 L231.7,471.7 L234.0,469.8 L236.3,467.8 L238.5,465.7 L240.6,463.6 L242.6,461.3 L244.4,459.0 L246.1,456.5 L247.6,454.0 L249.2,451.4 L250.7,448.8 L252.3,446.2 L253.9,443.7 L255.5,441.1 L256.9,438.5 L258.2,435.8 L259.4,433.1 L260.5,430.3 L261.5,427.4 L262.5,424.6 L263.5,421.7 L264.5,418.9 L265.5,416.1 L266.5,413.3 L267.5,410.4 L268.5,407.6 L269.5,404.8 L270.4,401.9 L271.4,399.1 L272.2,396.2 L273.0,393.3 L273.7,390.4 L274.4,387.5 L275.1,384.6 L275.9,381.7 L276.7,378.8 L277.5,375.9 L278.4,373.0 L279.2,370.1 L280.1,367.2 L280.9,364.4 L281.8,361.5 L282.6,358.6 L283.4,355.7 L284.1,352.8 L284.8,349.9 L285.5,347.0 L286.1,344.0 L286.6,341.1 L287.2,338.1 L287.7,335.2 L288.3,332.2 L288.8,329.3 L289.4,326.3 L290.0,323.4 L290.6,320.5 L291.3,317.5 L291.9,314.6 L292.6,311.7 L293.3,308.8 L294.0,305.8 L294.6,302.9 L295.2,300.0 L295.9,297.0 L296.5,294.1 L297.1,291.2 L297.7,288.2 L298.3,285.3 L298.9,282.4 L299.5,279.4 L300.1,276.5 L300.7,273.5 L301.3,270.6 L301.9,267.7 L302.5,264.7 L303.1,261.8 L303.7,258.8 L304.3,255.9 L304.8,252.9 L305.4,250.0 L306.0,247.0 L306.5,244.1 L307.1,241.1 L307.6,238.2 L308.2,235.3 L308.7,232.3 L309.3,229.4 L309.8,226.4 L310.4,223.5 L310.9,220.5 L311.4,217.5 L312.0,214.6 L312.5,211.6 L313.0,208.7 L313.5,205.7 L314.0,202.8 L314.5,199.8 L315.0,196.9 L315.5,193.9 L316.0,190.9 L316.5,188.0 L316.9,185.0 L317.4,182.1 L318.0,179.1 L318.5,176.1 L319.0,173.2 L319.6,170.2 L320.1,167.3 L320.7,164.3 L321.2,161.4 L321.8,158.4 L322.3,155.5 L322.9,152.6 L323.5,149.6 L324.1,146.7 L324.6,143.7 L325.2,140.8 L325.8,137.8 L326.4,134.9 L327.0,131.9 L327.5,129.0 L328.1,126.1 L328.7,123.1 L329.3,120.2 L329.9,117.2 L330.5,114.3 L331.0,111.3 L331.6,108.4 L332.2,105.5 L332.8,102.5 L333.4,99.6 L333.9,96.6 L334.5,93.7 L335.1,90.7 L335.7,87.8 L336.3,84.9 L336.9,81.9 L337.5,79.0 L338.1,76.0 L338.6,73.1 L339.2,70.2 L339.8,67.2 L340.4,64.3 L341.0,61.3 L341.6,58.4 L342.2,55.5 L342.8,52.5 L343.4,49.6 L344.0,46.6 L344.6,43.7 L345.2,40.7 L345.8,37.8 L346.4,34.9 L347.0,31.9 L347.6,29.0 L348.1,26.0 L348.7,23.1 L349.3,20.2 L349.9,17.2 L350.5,14.3 L351.1,11.3 L351.7,8.4 L352.3,5.5 L352.9,2.5 L353.5,-0.4 L354.1,-3.4 L354.4,-5.0 L386.5,-5.0 L385.9,-2.1 L385.3,0.8 L384.7,3.7 L384.1,6.7 L383.5,9.6 L382.9,12.6 L382.3,15.5 L381.7,18.4 L381.1,21.4 L380.5,24.3 L379.9,27.3 L379.3,30.2 L378.7,33.1 L378.1,36.1 L377.5,39.0 L376.9,41.9 L376.3,44.9 L375.7,47.8 L375.1,50.8 L374.5,53.7 L373.8,56.6 L373.2,59.6 L372.6,62.5 L372.0,65.5 L371.4,68.4 L370.8,71.3 L370.2,74.3 L369.6,77.2 L369.0,80.1 L368.4,83.1 L367.8,86.0 L367.1,89.0 L366.5,91.9 L365.9,94.8 L365.3,97.8 L364.7,100.7 L364.1,103.6 L363.4,106.6 L362.8,109.5 L362.2,112.4 L361.5,115.4 L360.9,118.3 L360.2,121.2 L359.6,124.2 L358.9,127.1 L358.3,130.0 L357.6,132.9 L356.9,135.9 L356.3,138.8 L355.6,141.7 L355.0,144.6 L354.3,147.6 L353.6,150.5 L353.0,153.4 L352.3,156.3 L351.7,159.3 L351.1,162.2 L350.4,165.1 L349.8,168.1 L349.2,171.0 L348.6,174.0 L348.0,176.9 L347.4,179.8 L346.9,182.8 L346.3,185.7 L345.8,188.7 L345.3,191.6 L344.8,194.6 L344.2,197.6 L343.7,200.5 L343.2,203.5 L342.6,206.4 L342.0,209.3 L341.5,212.3 L340.9,215.2 L340.2,218.2 L339.6,221.1 L339.0,224.0 L338.4,227.0 L337.7,229.9 L337.1,232.8 L336.5,235.8 L335.8,238.7 L335.2,241.6 L334.5,244.6 L333.9,247.5 L333.3,250.4 L332.7,253.4 L332.0,256.3 L331.4,259.2 L330.8,262.2 L330.2,265.1 L329.6,268.0 L329.0,271.0 L328.4,273.9 L327.8,276.9 L327.2,279.8 L326.6,282.7 L326.0,285.7 L325.4,288.6 L324.8,291.6 L324.2,294.5 L323.5,297.4 L322.9,300.4 L322.3,303.3 L321.7,306.2 L321.1,309.2 L320.5,312.1 L319.9,315.1 L319.3,318.0 L318.6,320.9 L317.9,323.8 L317.1,326.7 L316.2,329.6 L315.3,332.4 L314.4,335.3 L313.4,338.1 L312.4,341.0 L311.5,343.8 L310.5,346.7 L309.6,349.5 L308.8,352.4 L307.9,355.3 L307.1,358.2 L306.3,361.1 L305.5,364.0 L304.7,366.9 L303.9,369.7 L303.1,372.6 L302.3,375.5 L301.5,378.4 L300.6,381.3 L299.7,384.2 L298.8,387.0 L297.9,389.9 L297.0,392.7 L296.1,395.6 L295.2,398.5 L294.4,401.3 L293.5,404.2 L292.6,407.1 L291.7,409.9 L290.7,412.7 L289.6,415.6 L288.6,418.4 L287.5,421.2 L286.4,424.0 L285.2,426.7 L284.1,429.5 L282.9,432.2 L281.6,435.0 L280.4,437.7 L279.1,440.4 L277.8,443.1 L276.4,445.8 L275.0,448.5 L273.5,451.0 L272.0,453.6 L270.3,456.1 L268.6,458.6 L266.8,461.0 L265.0,463.4 L263.2,465.8 L261.2,468.1 L259.2,470.3 L257.1,472.4 L254.9,474.4 L252.5,476.2 L250.0,478.0 L247.6,479.7 L245.0,481.2 L242.4,482.7 L239.7,484.2 L237.1,485.6 L234.4,487.0 L231.7,488.2 L228.9,489.3 L226.1,490.3 L223.2,491.2 L220.3,492.0 L217.4,492.7 L214.4,492.9 L211.5,492.9 L208.5,492.9 L205.5,492.9 L202.6,492.9 L199.6,492.9 L196.6,492.9 L193.7,492.9 L190.7,492.9 L187.7,492.9 L184.7,492.9 L181.8,492.9 L178.8,492.9 L175.8,492.9 L172.8,492.9 L169.8,492.9 L166.8,492.9 L163.8,492.9 L160.9,492.9 L157.9,492.9 L154.9,492.9 L151.9,492.9 L148.9,492.9 L145.8,492.9 L142.8,492.9 L139.8,492.9 L136.8,492.9 L133.8,492.9 L130.8,492.9 L127.7,492.9 L124.7,492.9 L121.7,492.9 L118.6,492.9 L115.6,492.9 L112.6,492.9 L109.5,492.9 L106.5,492.9 L103.4,492.9Z" fill="#f5a663" stroke="#f5a663" stroke-width="0.5" stroke-linejoin="round"/>
<rect x="100.5" y="488.8" width="5.8" height="5.8" fill="#800000"/>
<rect x="115.8" y="488.8" width="5.8" height="5.8" fill="#800000"/>
<rect x="131.0" y="488.7" width="5.8" height="5.8" fill="#800000"/>
<rect x="146.3" y="488.7" width="5.8" height="5.8" fill="#800000"/>
<rect x="161.6" y="488.6" width="5.8" height="5.8" fill="#800000"/>
<rect x="176.8" y="488.3" width="5.8" height="5.8" fill="#800000"/>
<rect x="192.1" y="487.3" width="5.8" height="5.8" fill="#800000"/>
<rect x="207.4" y="485.7" width="5.8" height="5.8" fill="#800000"/>
<rect x="222.7" y="480.3" width="5.8" height="5.8" fill="#800000"/>
<rect x="237.9" y="470.2" width="5.8" height="5.8" fill="#800000"/>
<rect x="253.2" y="453.1" width="5.8" height="5.8" fill="#800000"/>
<rect x="268.5" y="425.8" width="5.8" height="5.8" fill="#800000"/>
<rect x="283.7" y="379.1" width="5.8" height="5.8" fill="#800000"/>
<rect x="299.0" y="320.3" width="5.8" height="5.8" fill="#800000"/>
<rect x="314.3" y="251.6" width="5.8" height="5.8" fill="#800000"/>
<rect x="329.6" y="175.9" width="5.8" height="5.8" fill="#800000"/>
<rect x="344.8" y="100.9" width="5.8" height="5.8" fill="#800000"/>
<rect x="360.1" y="28.2" width="5.8" height="5.8" fill="#800000"/>
</g>
<line x1="216" x2="488" y1="492.8" y2="492.8" stroke="#4a2c1c" stroke-width="0.9"/>
<rect x="214.8" y="491.55" width="3.5" height="2.2" fill="#14d822"/>
<rect x="224.7" y="491.55" width="3.5" height="2.2" fill="#14d822"/>
<rect x="234.5" y="491.55" width="3.5" height="2.2" fill="#14d822"/>
<rect x="244.3" y="491.55" width="3.5" height="2.2" fill="#14d822"/>
<rect x="254.2" y="491.55" width="3.5" height="2.2" fill="#14d822"/>
<rect x="264.0" y="491.55" width="3.5" height="2.2" fill="#14d822"/>
<rect x="273.9" y="491.55" width="3.5" height="2.2" fill="#14d822"/>
<rect x="283.7" y="491.55" width="3.5" height="2.2" fill="#14d822"/>
<rect x="293.5" y="491.55" width="3.5" height="2.2" fill="#14d822"/>
<rect x="303.4" y="491.55" width="3.5" height="2.2" fill="#14d822"/>
<rect x="313.2" y="491.55" width="3.5" height="2.2" fill="#14d822"/>
<rect x="323.1" y="491.55" width="3.5" height="2.2" fill="#14d822"/>
<rect x="332.9" y="491.55" width="3.5" height="2.2" fill="#14d822"/>
<rect x="342.8" y="491.55" width="3.5" height="2.2" fill="#14d822"/>
<rect x="352.6" y="491.55" width="3.5" height="2.2" fill="#14d822"/>
<rect x="362.4" y="491.55" width="3.5" height="2.2" fill="#14d822"/>
<rect x="372.3" y="491.55" width="3.5" height="2.2" fill="#14d822"/>
<rect x="382.1" y="491.55" width="3.5" height="2.2" fill="#14d822"/>
<rect x="392.0" y="491.55" width="3.5" height="2.2" fill="#14d822"/>
<rect x="401.8" y="491.55" width="3.5" height="2.2" fill="#14d822"/>
<rect x="411.6" y="491.55" width="3.5" height="2.2" fill="#14d822"/>
<rect x="421.5" y="491.55" width="3.5" height="2.2" fill="#14d822"/>
<rect x="431.3" y="491.55" width="3.5" height="2.2" fill="#14d822"/>
<rect x="441.2" y="491.55" width="3.5" height="2.2" fill="#14d822"/>
<rect x="451.0" y="491.55" width="3.5" height="2.2" fill="#14d822"/>
<rect x="460.8" y="491.55" width="3.5" height="2.2" fill="#14d822"/>
<!-- reference dashed lines -->
<line x1="100.8" x2="669.9" y1="166.25" y2="167.0" stroke="#000" stroke-width="2.4" stroke-dasharray="11.6 10.69"/>
<line x1="100.8" x2="669.0" y1="461.3" y2="461.9" stroke="#000" stroke-width="2.4" stroke-dasharray="11.6 10.65"/>
<text x="88.2" y="500.6" text-anchor="end" font-size="24.4">0.00</text>
<text x="88.2" y="435.0" text-anchor="end" font-size="24.4">0.02</text>
<text x="88.2" y="369.4" text-anchor="end" font-size="24.4">0.04</text>
<text x="88.2" y="303.8" text-anchor="end" font-size="24.4">0.06</text>
<text x="88.2" y="238.2" text-anchor="end" font-size="24.4">0.08</text>
<text x="88.2" y="172.5" text-anchor="end" font-size="24.4">0.10</text>
<text x="88.2" y="106.9" text-anchor="end" font-size="24.4">0.12</text>
<text x="88.2" y="41.3" text-anchor="end" font-size="24.4">0.14</text>
<text x="107.0" y="527.2" text-anchor="middle">0</text>
<text x="184.2" y="527.2" text-anchor="middle">2</text>
<text x="261.5" y="527.2" text-anchor="middle">4</text>
<text x="338.7" y="527.2" text-anchor="middle">6</text>
<text x="416.0" y="527.2" text-anchor="middle">8</text>
<text x="493.2" y="527.2" text-anchor="middle">10</text>
<text x="570.4" y="527.2" text-anchor="middle">12</text>
<text x="647.7" y="527.2" text-anchor="middle">14</text>
<rect x="135.1" y="14.0" width="11.8" height="12.6" fill="#000"/>
<text transform="translate(177.9,29.3) scale(1.022,1)" class="lg">BC-B</text>
<rect x="134.6" y="46.0" width="11.8" height="12.6" fill="#ff0000"/>
<text transform="translate(177.9,61.1) scale(1.022,1)" class="lg">BC-BL40</text>
<rect x="136.75" y="79.95" width="9.5" height="11.1" fill="#8f9dff" stroke="#3040ff" stroke-width="1.7"/>
<text transform="translate(177.9,92.9) scale(1.022,1)" class="lg">BC-C</text>
<rect x="135.1" y="109.0" width="11.8" height="12.6" fill="#9be031"/>
<text transform="translate(177.9,124.7) scale(1.022,1)" class="lg">BC-CL40</text>
<rect x="136.1" y="141.6" width="11.8" height="12.6" fill="#ff8000"/>
<text transform="translate(177.9,156.5) scale(1.022,1)" class="lg">Norit RB3</text>
<text transform="translate(393,559) scale(1.033,1)" text-anchor="middle" class="lg">Time, s</text>
<text transform="translate(19,274.3) rotate(-90)" class="lg">C/C<tspan font-size="17" dy="7.5">0</tspan></text>
</svg>
</body></html>
